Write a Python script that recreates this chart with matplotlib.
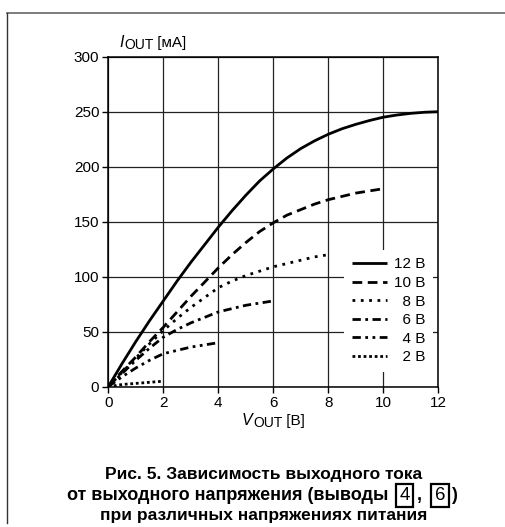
import matplotlib
matplotlib.use("Agg")
import matplotlib.pyplot as plt
from matplotlib.lines import Line2D

plt.rcParams['font.family'] = ['Liberation Sans', 'DejaVu Sans']

# data (V_OUT in volts, I_OUT in mA)
v12 = [0, 0.5, 1, 1.5, 2, 2.5, 3, 3.5, 4, 4.5, 5, 5.5, 6, 6.5, 7, 7.5, 8, 8.5, 9, 9.5, 10, 10.5, 11, 11.5, 12]
i12 = [0, 21, 41, 60, 78, 96, 113, 129, 145, 160, 174, 187, 198, 208, 216.5, 223.5, 229.5, 234.5, 238.5, 242, 245, 247, 248.5, 249.5, 250]
v10 = [0, 0.5, 1, 1.5, 2, 2.5, 3, 3.5, 4, 4.5, 5, 5.5, 6, 6.5, 7, 7.5, 8, 8.5, 9, 9.5, 10]
i10 = [0, 14, 27, 41, 54, 68, 82, 95, 108, 120, 131, 141, 149, 156, 161, 166, 170, 173, 176, 178, 180]
v8 = [0, 0.5, 1, 1.5, 2, 2.5, 3, 3.5, 4, 4.5, 5, 5.5, 6, 6.5, 7, 7.5, 8]
i8 = [0, 13, 26, 39, 51, 62, 72, 81, 90, 96, 101, 105, 109, 112, 115, 118, 120]
v6 = [0, 0.5, 1, 1.5, 2, 2.5, 3, 3.5, 4, 4.5, 5, 5.5, 6]
i6 = [0, 12, 24, 35, 45, 52, 58, 63, 68, 71, 74, 76, 78]
v4 = [0, 0.5, 1, 1.5, 2, 2.5, 3, 3.5, 4]
i4 = [0, 9, 17, 24, 30, 33, 36, 38, 40]
v2 = [0, 0.5, 1, 1.5, 2]
i2 = [0, 2, 3, 4, 5]

labels = ["12 В", "10 В", "\u20078 В", "\u20076 В", "\u20074 В", "\u20072 В"]
xticks = [0, 2, 4, 6, 8, 10, 12]
yticks = [0, 50, 100, 150, 200, 250, 300]

W, H = 506, 527
fig = plt.figure(figsize=(W / 100, H / 100), dpi=100)
ax = fig.add_axes([108.3 / W, 1 - 386.7 / H, 330 / W, 330 / H])

styles = [
    '-',
    (0, (3.5, 2)),
    (0, (1, 2)),
    (0, (3, 1.6, 1, 1.6)),
    (0, (3, 1.6, 1, 1.6, 1, 1.6)),
    (0, (1, 1)),
]
series = [(v12, i12), (v10, i10), (v8, i8), (v6, i6), (v4, i4), (v2, i2)]
for (x, y), ls, lab in zip(series, styles, labels):
    ax.plot(x, y, color='black', lw=2, linestyle=ls, label=lab,
            dash_capstyle='butt', solid_capstyle='butt', solid_joinstyle='round')

ax.set_xlim(0, 12)
ax.set_ylim(0, 300)
ax.set_xticks(xticks)
ax.set_yticks(yticks)
ax.grid(True, color='#222222', lw=0.9)
for s in ax.spines.values():
    s.set_linewidth(1.1)
ax.tick_params(labelsize=11, length=4, width=1, pad=2.5)

leg = ax.legend(loc='center', bbox_to_anchor=(0.85, 0.23), fontsize=11,
                frameon=True, fancybox=False, handlelength=2.3,
                handletextpad=0.45, labelspacing=0.3, borderpad=0.5)
leg.get_frame().set_facecolor('white')
leg.get_frame().set_edgecolor('none')
leg.get_frame().set_alpha(1)

fig.canvas.draw()
r = fig.canvas.get_renderer()


# axis labels: italic letter, lowered "OUT", units in brackets
def axis_label(x, y, letter, unit):
    t1 = fig.text(x, y, letter, fontsize=11.5, style='italic', va='baseline')
    bb = t1.get_window_extent(r)
    t2 = fig.text(bb.x1 / W + 0.5 / W, y - 2 / H, "OUT", fontsize=10, va='baseline')
    bb2 = t2.get_window_extent(r)
    fig.text(bb2.x1 / W, y, " [" + unit + "]", fontsize=11, va='baseline')


axis_label(119 / W, 1 - 47 / H, "I", "мА")
axis_label(242 / W, 1 - 425 / H, "V", "В")

# caption
cap1 = "Рис. 5. Зависимость выходного тока"
cap3 = "при различных напряжениях питания"
fig.text(264 / W, 1 - 479 / H, cap1, fontsize=12.5, weight='bold', ha='center', va='baseline')
fig.text(264 / W, 1 - 520 / H, cap3, fontsize=12.5, weight='bold', ha='center', va='baseline')

pieces = [("от выходного напряжения (выводы", 'bold', False, 11),
          ("4", 'normal', True, 7),
          (",", 'bold', False, 13),
          ("6", 'normal', True, 6),
          (")", 'bold', False, 0)]
y2 = 1 - 500 / H
box = dict(boxstyle='square,pad=0.18', fc='none', ec='black', lw=1.6)
arts = []
widths = []
for txt, wt, boxed, gap in pieces:
    t = fig.text(0, y2, txt, fontsize=13.5 if boxed else 13, weight=wt,
                 va='baseline', bbox=box if boxed else None)
    arts.append(t)
    widths.append(t.get_window_extent(r).width)
gaps = [p[3] for p in pieces]
total = sum(widths) + sum(gaps[:-1])
xpos = 262 - total / 2
for t, w, g in zip(arts, widths, gaps):
    t.set_x(xpos / W)
    xpos += w + g

# frame on top and left of the figure
fig.add_artist(Line2D([7 / W, 1], [1 - 13 / H, 1 - 13 / H], color='#666666', lw=1.2))
fig.add_artist(Line2D([7 / W, 7 / W], [1 - 13 / H, 1 - 523 / H], color='#333333', lw=1.0))

fig.savefig('out.png', dpi=100)
